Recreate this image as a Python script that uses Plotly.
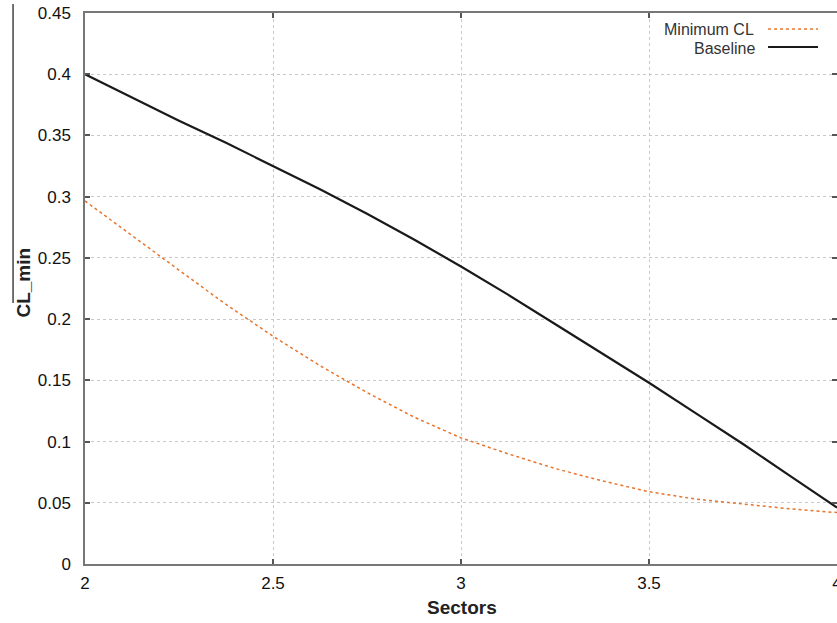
import plotly.graph_objects as go

W, H = 837, 623
L, R, T, B = 84.5, 0, 13, 59

sectors = [2.0, 2.125, 2.25, 2.375, 2.5, 2.625, 2.75, 2.875, 3.0,
           3.125, 3.25, 3.375, 3.5, 3.625, 3.75, 3.875, 4.0]
baseline = [0.400, 0.381, 0.362, 0.344, 0.325, 0.306, 0.286, 0.265, 0.243,
            0.220, 0.196, 0.172, 0.148, 0.123, 0.098, 0.072, 0.046]
minimum_cl = [0.2965, 0.268, 0.240, 0.212, 0.186, 0.162, 0.140, 0.120, 0.103,
              0.090, 0.078, 0.068, 0.059, 0.053, 0.049, 0.045, 0.042]
x_ticks = [2, 2.5, 3, 3.5, 4]
y_ticks = [0, 0.05, 0.1, 0.15, 0.2, 0.25, 0.3, 0.35, 0.4, 0.45]

ORANGE = "#e8742c"
font_family = "Liberation Sans, Arial, sans-serif"

fig = go.Figure()
fig.add_trace(go.Scatter(x=sectors, y=minimum_cl, mode="lines", name="Minimum CL",
                         line=dict(color=ORANGE, width=1.5, dash="dot"),
                         showlegend=False))
fig.add_trace(go.Scatter(x=sectors, y=baseline, mode="lines", name="Baseline",
                         line=dict(color="#1a1a1a", width=2.2),
                         showlegend=False))

pw = W - L - R
ph = H - T - B
# helpers converting window pixel coords to paper coords
def px(x):
    return (x - L) / pw
def py(y):
    return (H - B - y) / ph

axis_common = dict(
    showline=True, linecolor="#777", linewidth=1.5, mirror="allticks",
    ticks="inside", ticklen=5, tickcolor="#555", tickwidth=1.5,
    showgrid=True, gridcolor="#c8c8c8", gridwidth=1, griddash="dot",
    zeroline=False, automargin=False, ticklabeloverflow="allow",
    tickfont=dict(family=font_family, size=17, color="#111"),
)

fig.update_layout(
    width=W, height=H,
    margin=dict(l=L, r=R, t=T, b=B, pad=0),
    paper_bgcolor="white", plot_bgcolor="white",
    template="none",
    xaxis=dict(range=[2, 4], tickvals=x_ticks, ticktext=[str(v) for v in x_ticks],
               ticklabelstandoff=3, **axis_common),
    yaxis=dict(range=[0, 0.45], tickvals=y_ticks, ticktext=[f"{v:g}" for v in y_ticks],
               ticklabelstandoff=9, **axis_common),
    annotations=[
        dict(text="<b>Sectors</b>", xref="paper", yref="paper", x=px(462), y=py(607),
             xanchor="center", yanchor="middle", showarrow=False,
             font=dict(family=font_family, size=19, color="#222")),
        dict(text="<b>CL_min</b>", xref="paper", yref="paper", x=px(22), y=py(283),
             xanchor="center", yanchor="middle", textangle=-90, showarrow=False,
             font=dict(family=font_family, size=19, color="#222")),
        dict(text="Minimum CL", xref="paper", yref="paper", x=px(756), y=py(29),
             xanchor="right", yanchor="middle", showarrow=False,
             font=dict(family=font_family, size=16, color="#333")),
        dict(text="Baseline", xref="paper", yref="paper", x=px(757), y=py(48),
             xanchor="right", yanchor="middle", showarrow=False,
             font=dict(family=font_family, size=16, color="#333")),
    ],
    shapes=[
        dict(type="line", xref="paper", yref="paper", x0=px(768), x1=px(818),
             y0=py(29), y1=py(29), line=dict(color=ORANGE, width=1.5, dash="dot")),
        dict(type="line", xref="paper", yref="paper", x0=px(768), x1=px(818),
             y0=py(47), y1=py(47), line=dict(color="#1a1a1a", width=2.2)),
        dict(type="line", xref="paper", yref="paper", x0=px(12.5), x1=px(12.5),
             y0=py(4), y1=py(303), line=dict(color="#444", width=1.5)),
    ],
)

fig.write_html("out.html", config={"displayModeBar": False},
               post_script="document.body.style.margin='0px';document.body.style.overflow='hidden';")
